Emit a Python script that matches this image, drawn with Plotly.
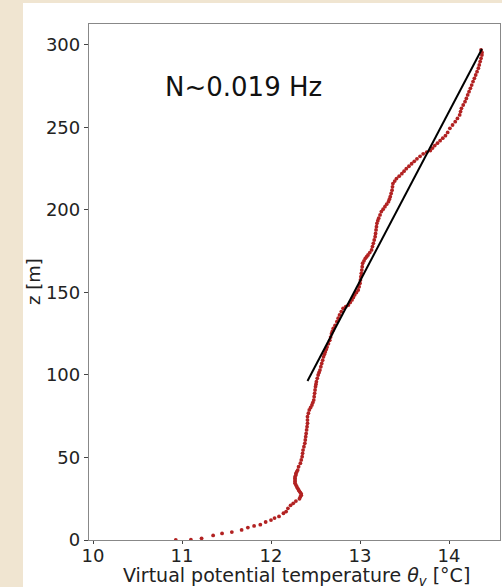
import plotly.graph_objects as go

# Measured profile: virtual potential temperature (deg C) vs height (m)
z_m = [0, 0.2, 1.0, 2.8, 4.0, 4.8, 6.1, 7.5, 8.5, 9.3, 10.9, 12.1, 13.3, 14.3, 16.2, 17.2,
       19.2, 21.0, 22.2, 23.6, 25.0, 26.2, 27.1, 28.0, 28.7, 29.5, 30.3, 31.3, 32.3, 33.4,
       34.4, 35.4, 36.4, 37.4, 38.4, 39.4, 40.4, 41.4, 42.4,
       44.4, 46.5, 48.5, 50.5, 52.5, 54.5, 56.5, 58.6, 60.6, 62.6, 64.6, 66.7, 68.7, 70.7,
       72.7, 74.7, 76.8, 78.8, 80.3, 81.8, 83.3, 84.8, 86.8, 88.9, 90.9, 92.9, 94.4, 95.9,
       98.0, 100.0, 101.5, 103.0, 105.0, 107.0, 109.0, 111.0, 112.5, 114.0, 115.5, 117.0,
       119.0, 121.0, 123.0, 125.0, 126.5, 128.3, 130.0, 132.3, 134.4, 136.4, 138.4, 140.4,
       141.4, 142.4, 144.0, 145.5, 147.0, 148.5, 150.0, 151.5, 153.5, 155.6, 157.6, 159.6,
       161.6, 163.6, 165.6, 167.7, 169.2, 170.7, 171.7, 172.7, 174.2, 175.8, 177.8, 179.8,
       181.8, 183.8, 185.8, 187.9, 189.9, 191.9, 193.5, 195.0, 197.0, 199.0, 200.5, 202.0,
       203.5, 205.0, 206.5, 208.0, 210.0, 212.0, 214.0, 216.0, 217.5, 219.0, 220.5, 222.0,
       223.5, 225.0, 226.5, 228.0, 229.5, 231.0, 232.5, 234.0, 235.0, 236.0, 237.5, 239.0,
       240.5, 242.0, 243.5, 245.0, 247.0, 249.5, 251.5, 253.5, 255.5, 257.6, 259.6, 261.6,
       263.6, 265.6, 267.6, 269.7, 271.7, 273.7, 275.7, 277.8, 279.8, 281.8, 283.8, 285.9,
       287.9, 289.9, 291.9, 293.9, 295.5, 297.0]
theta_v = [10.93, 11.10, 11.22, 11.35, 11.45, 11.56, 11.67, 11.74, 11.81, 11.88, 11.94, 12.00,
           12.04, 12.09, 12.14, 12.17, 12.19, 12.22, 12.25, 12.28, 12.32, 12.33, 12.34, 12.34,
           12.33, 12.32, 12.31, 12.30, 12.29, 12.28, 12.27, 12.27, 12.27, 12.27, 12.27, 12.28,
           12.28, 12.29, 12.30,
           12.31, 12.33, 12.34, 12.35, 12.355, 12.36, 12.37, 12.38, 12.385, 12.39, 12.395, 12.40,
           12.405, 12.41, 12.41, 12.41, 12.42, 12.43, 12.445, 12.46, 12.47, 12.48, 12.485, 12.49,
           12.495, 12.50, 12.505, 12.51, 12.52, 12.53, 12.54, 12.55, 12.56, 12.57, 12.58, 12.59,
           12.60, 12.61, 12.62, 12.63, 12.645, 12.66, 12.67, 12.68, 12.69, 12.70, 12.72, 12.74,
           12.755, 12.77, 12.79, 12.81, 12.84, 12.87, 12.89, 12.91, 12.925, 12.94, 12.96, 12.98,
           12.99, 13.00, 13.005, 13.01, 13.015, 13.02, 13.025, 13.03, 13.045, 13.06, 13.075, 13.09,
           13.11, 13.13, 13.14, 13.15, 13.16, 13.17, 13.175, 13.18, 13.185, 13.19, 13.20, 13.21,
           13.225, 13.24, 13.26, 13.28, 13.30, 13.32, 13.33, 13.34, 13.35, 13.36, 13.365, 13.37,
           13.39, 13.41, 13.44, 13.47, 13.495, 13.52, 13.55, 13.58, 13.61, 13.64, 13.675, 13.71,
           13.75, 13.79, 13.815, 13.84, 13.87, 13.90, 13.93, 13.96, 13.985, 14.01, 14.04, 14.07,
           14.095, 14.12, 14.13, 14.14, 14.16, 14.18, 14.195, 14.21, 14.225, 14.24, 14.255, 14.27,
           14.285, 14.30, 14.315, 14.33, 14.34, 14.35, 14.36, 14.37, 14.37, 14.36]

# Linear fit segment (end points)
fit_theta = [12.41, 14.37]
fit_z = [96.4, 297.6]

annotation_text = "N~0.019 Hz"
x_title = "Virtual potential temperature <i>θ<sub>v</sub></i> [°C]"
y_title = "z [m]"
x_ticks = [10, 11, 12, 13, 14]
y_ticks = [0, 50, 100, 150, 200, 250, 300]

W, H = 502, 587
ml, mr, mt, mb = 89, 2, 24, 47
pw, ph = W - ml - mr, H - mt - mb

fig = go.Figure()
fig.add_trace(go.Scatter(x=theta_v, y=z_m, mode="markers",
                         marker=dict(color="#b22222", size=3.8, line=dict(width=0)),
                         showlegend=False))
fig.add_trace(go.Scatter(x=fit_theta, y=fit_z, mode="lines",
                         line=dict(color="black", width=2), showlegend=False))

font_family = "DejaVu Sans"
fig.update_layout(
    width=W, height=H,
    margin=dict(l=ml, r=mr, t=mt, b=mb, pad=0, autoexpand=False),
    paper_bgcolor="#f0e5d1",
    plot_bgcolor="white",
    font=dict(family=font_family, size=18, color="#222"),
    xaxis=dict(range=[9.955, 14.573], tickvals=x_ticks, ticks="outside", ticklen=3,
               ticklabelstandoff=-4,
               tickcolor="#444", showgrid=False, zeroline=False, showline=True,
               linecolor="#888", linewidth=1.3, mirror=True, automargin=False,
               tickfont=dict(size=18, color="#222")),
    yaxis=dict(range=[0, 312.7], tickvals=y_ticks, ticks="outside", ticklen=4,
               tickcolor="#444", showgrid=False, zeroline=False, showline=True,
               linecolor="#888", linewidth=1.3, mirror=True, automargin=False,
               tickfont=dict(size=18, color="#222")),
    shapes=[dict(type="rect", xref="paper", yref="paper", layer="below",
                 x0=(23 - ml) / pw, x1=1.05, y0=-0.2, y1=1 + (mt - 3) / ph,
                 fillcolor="white", line=dict(width=0))],
    annotations=[
        dict(x=11.69, y=274.5, xref="x", yref="y", text=annotation_text,
             showarrow=False, font=dict(size=26, color="#111", family=font_family)),
        dict(x=(296 - ml) / pw, y=-(591 - 540) / ph, xref="paper", yref="paper",
             text=x_title, showarrow=False, xanchor="center", yanchor="bottom",
             font=dict(size=19, color="#222", family=font_family)),
        dict(x=(33 - ml) / pw, y=0.5, xref="paper", yref="paper", text=y_title,
             textangle=-90, showarrow=False, xanchor="center", yanchor="middle",
             font=dict(size=18, color="#222", family=font_family)),
    ],
)

fig.write_html("out.html", config={"displayModeBar": False},
               post_script="document.body.style.margin='0px';document.body.style.overflow='hidden';")
